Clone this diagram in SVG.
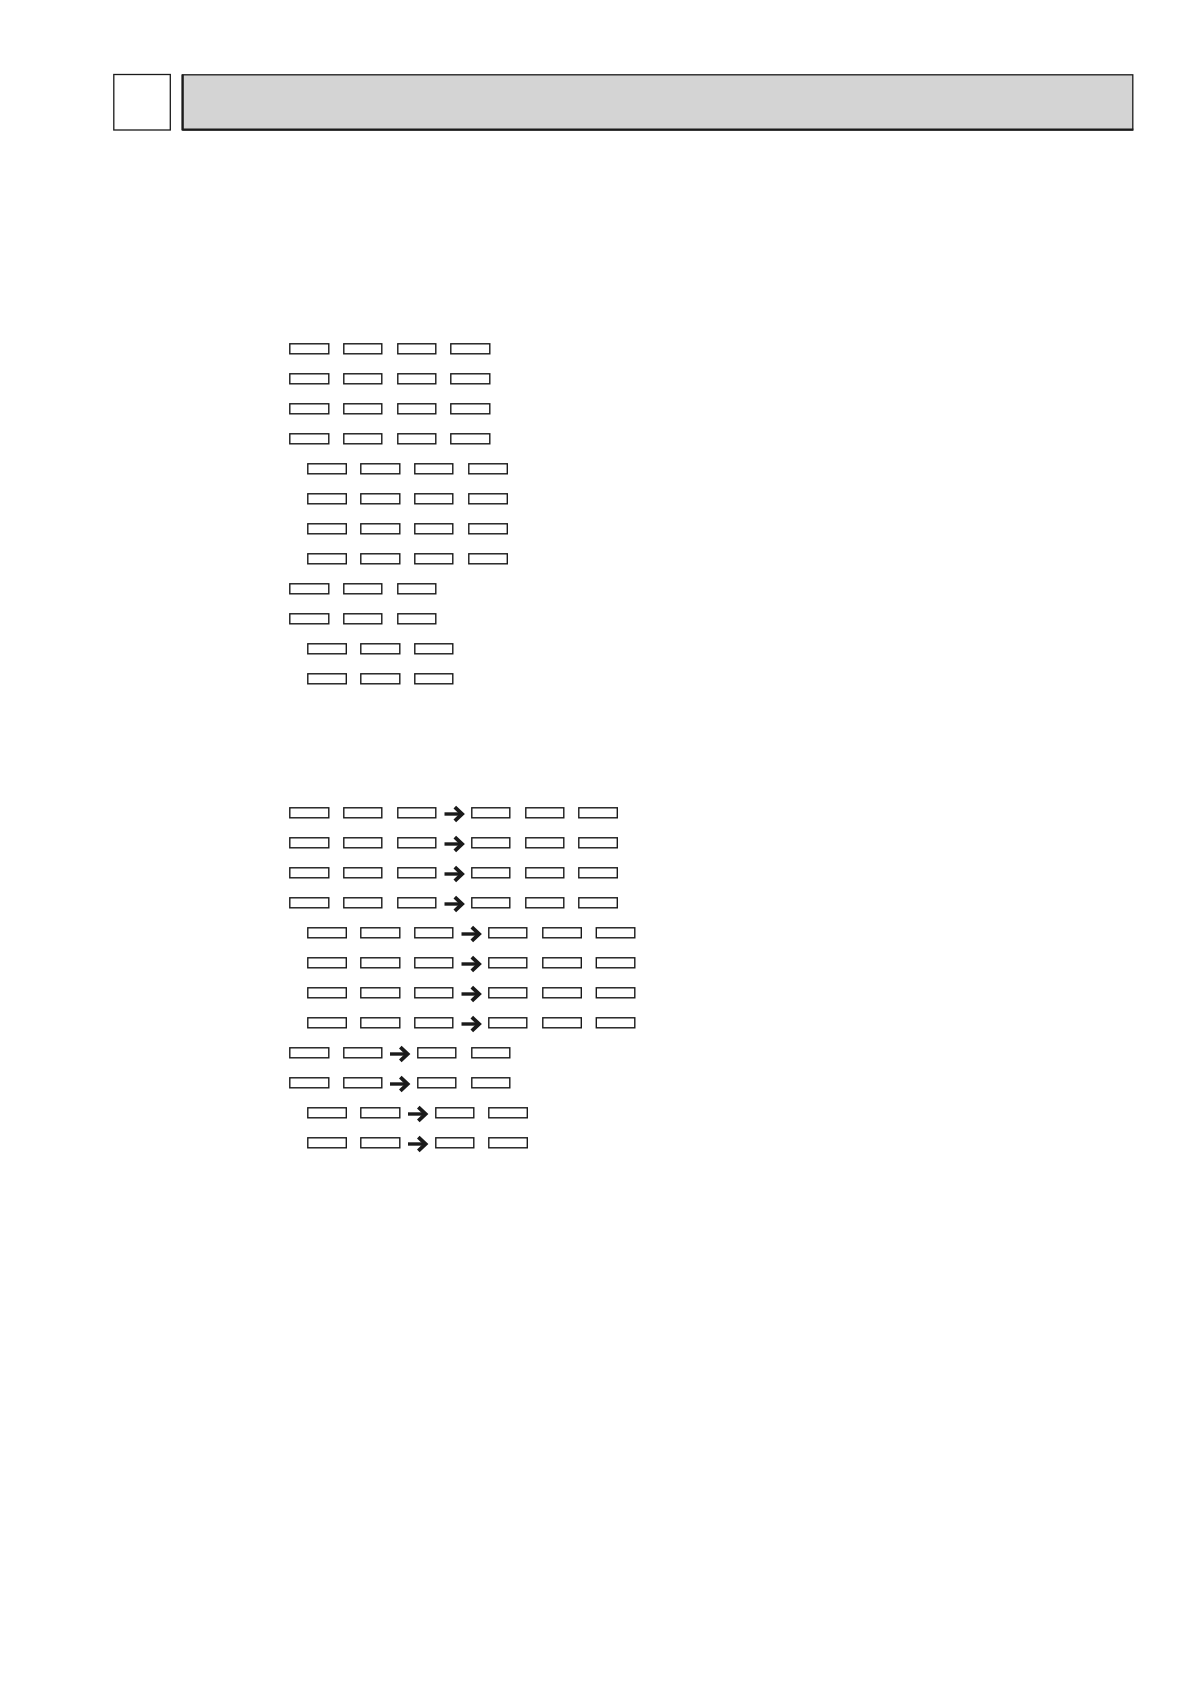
<svg xmlns="http://www.w3.org/2000/svg" width="1191" height="1684" viewBox="0 0 1191 1684">
<style>
.b{fill:#fff;stroke:#1a1a1a;stroke-width:1.4}
.sh{fill:none;stroke:#1a1a1a;stroke-width:3.4}
.hd{fill:none;stroke:#1a1a1a;stroke-width:3.8;stroke-linejoin:miter;stroke-linecap:butt}
</style>
<defs>
<g id="arr"><path class="sh" d="M0,0 H15.5"/><path class="hd" d="M10.3,-6.8 L17.6,0 L10.3,6.8"/></g>
</defs>
<rect width="1191" height="1684" fill="#fff"/>
<g id="header">
<rect id="numbox" x="113.8" y="74.5" width="56.5" height="55.5" fill="#fff" stroke="#1a1a1a" stroke-width="1.3"/>
<rect id="titlebar" x="182.3" y="74.8" width="950.5" height="55" fill="#d4d4d4" stroke="#1a1a1a" stroke-width="1.3"/>
<path d="M182.7,74.8 V130.3 M182.3,129.6 H1133.3" fill="none" stroke="#1a1a1a" stroke-width="2.2"/>
</g>
<g id="section1">
<g id="s1r1"><rect class="b" x="289.8" y="343.8" width="39" height="10"/><rect class="b" x="343.8" y="343.8" width="38" height="10"/><rect class="b" x="397.8" y="343.8" width="38" height="10"/><rect class="b" x="450.8" y="343.8" width="39" height="10"/></g>
<g id="s1r2"><rect class="b" x="289.8" y="373.8" width="39" height="10"/><rect class="b" x="343.8" y="373.8" width="38" height="10"/><rect class="b" x="397.8" y="373.8" width="38" height="10"/><rect class="b" x="450.8" y="373.8" width="39" height="10"/></g>
<g id="s1r3"><rect class="b" x="289.8" y="403.8" width="39" height="10"/><rect class="b" x="343.8" y="403.8" width="38" height="10"/><rect class="b" x="397.8" y="403.8" width="38" height="10"/><rect class="b" x="450.8" y="403.8" width="39" height="10"/></g>
<g id="s1r4"><rect class="b" x="289.8" y="433.8" width="39" height="10"/><rect class="b" x="343.8" y="433.8" width="38" height="10"/><rect class="b" x="397.8" y="433.8" width="38" height="10"/><rect class="b" x="450.8" y="433.8" width="39" height="10"/></g>
<g id="s1r5"><rect class="b" x="307.8" y="463.8" width="38.5" height="10"/><rect class="b" x="360.8" y="463.8" width="39" height="10"/><rect class="b" x="414.8" y="463.8" width="38" height="10"/><rect class="b" x="468.8" y="463.8" width="38.5" height="10"/></g>
<g id="s1r6"><rect class="b" x="307.8" y="493.8" width="38.5" height="10"/><rect class="b" x="360.8" y="493.8" width="39" height="10"/><rect class="b" x="414.8" y="493.8" width="38" height="10"/><rect class="b" x="468.8" y="493.8" width="38.5" height="10"/></g>
<g id="s1r7"><rect class="b" x="307.8" y="523.8" width="38.5" height="10"/><rect class="b" x="360.8" y="523.8" width="39" height="10"/><rect class="b" x="414.8" y="523.8" width="38" height="10"/><rect class="b" x="468.8" y="523.8" width="38.5" height="10"/></g>
<g id="s1r8"><rect class="b" x="307.8" y="553.8" width="38.5" height="10"/><rect class="b" x="360.8" y="553.8" width="39" height="10"/><rect class="b" x="414.8" y="553.8" width="38" height="10"/><rect class="b" x="468.8" y="553.8" width="38.5" height="10"/></g>
<g id="s1r9"><rect class="b" x="289.8" y="583.8" width="39" height="10"/><rect class="b" x="343.8" y="583.8" width="38" height="10"/><rect class="b" x="397.8" y="583.8" width="38" height="10"/></g>
<g id="s1r10"><rect class="b" x="289.8" y="613.8" width="39" height="10"/><rect class="b" x="343.8" y="613.8" width="38" height="10"/><rect class="b" x="397.8" y="613.8" width="38" height="10"/></g>
<g id="s1r11"><rect class="b" x="307.8" y="643.8" width="38.5" height="10"/><rect class="b" x="360.8" y="643.8" width="39" height="10"/><rect class="b" x="414.8" y="643.8" width="38" height="10"/></g>
<g id="s1r12"><rect class="b" x="307.8" y="673.8" width="38.5" height="10"/><rect class="b" x="360.8" y="673.8" width="39" height="10"/><rect class="b" x="414.8" y="673.8" width="38" height="10"/></g>
</g>
<g id="section2">
<g id="s2r1"><rect class="b" x="289.8" y="807.8" width="39" height="10"/><rect class="b" x="343.8" y="807.8" width="38" height="10"/><rect class="b" x="397.8" y="807.8" width="38" height="10"/><rect class="b" x="471.8" y="807.8" width="38" height="10"/><rect class="b" x="525.8" y="807.8" width="38" height="10"/><rect class="b" x="578.8" y="807.8" width="38.5" height="10"/></g>
<g id="s2r2"><rect class="b" x="289.8" y="837.8" width="39" height="10"/><rect class="b" x="343.8" y="837.8" width="38" height="10"/><rect class="b" x="397.8" y="837.8" width="38" height="10"/><rect class="b" x="471.8" y="837.8" width="38" height="10"/><rect class="b" x="525.8" y="837.8" width="38" height="10"/><rect class="b" x="578.8" y="837.8" width="38.5" height="10"/></g>
<g id="s2r3"><rect class="b" x="289.8" y="867.8" width="39" height="10"/><rect class="b" x="343.8" y="867.8" width="38" height="10"/><rect class="b" x="397.8" y="867.8" width="38" height="10"/><rect class="b" x="471.8" y="867.8" width="38" height="10"/><rect class="b" x="525.8" y="867.8" width="38" height="10"/><rect class="b" x="578.8" y="867.8" width="38.5" height="10"/></g>
<g id="s2r4"><rect class="b" x="289.8" y="897.8" width="39" height="10"/><rect class="b" x="343.8" y="897.8" width="38" height="10"/><rect class="b" x="397.8" y="897.8" width="38" height="10"/><rect class="b" x="471.8" y="897.8" width="38" height="10"/><rect class="b" x="525.8" y="897.8" width="38" height="10"/><rect class="b" x="578.8" y="897.8" width="38.5" height="10"/></g>
<g id="s2r5"><rect class="b" x="307.8" y="927.8" width="38.5" height="10"/><rect class="b" x="360.8" y="927.8" width="39" height="10"/><rect class="b" x="414.8" y="927.8" width="38" height="10"/><rect class="b" x="488.8" y="927.8" width="38" height="10"/><rect class="b" x="542.8" y="927.8" width="38.5" height="10"/><rect class="b" x="596.3" y="927.8" width="38.5" height="10"/></g>
<g id="s2r6"><rect class="b" x="307.8" y="957.8" width="38.5" height="10"/><rect class="b" x="360.8" y="957.8" width="39" height="10"/><rect class="b" x="414.8" y="957.8" width="38" height="10"/><rect class="b" x="488.8" y="957.8" width="38" height="10"/><rect class="b" x="542.8" y="957.8" width="38.5" height="10"/><rect class="b" x="596.3" y="957.8" width="38.5" height="10"/></g>
<g id="s2r7"><rect class="b" x="307.8" y="987.8" width="38.5" height="10"/><rect class="b" x="360.8" y="987.8" width="39" height="10"/><rect class="b" x="414.8" y="987.8" width="38" height="10"/><rect class="b" x="488.8" y="987.8" width="38" height="10"/><rect class="b" x="542.8" y="987.8" width="38.5" height="10"/><rect class="b" x="596.3" y="987.8" width="38.5" height="10"/></g>
<g id="s2r8"><rect class="b" x="307.8" y="1017.8" width="38.5" height="10"/><rect class="b" x="360.8" y="1017.8" width="39" height="10"/><rect class="b" x="414.8" y="1017.8" width="38" height="10"/><rect class="b" x="488.8" y="1017.8" width="38" height="10"/><rect class="b" x="542.8" y="1017.8" width="38.5" height="10"/><rect class="b" x="596.3" y="1017.8" width="38.5" height="10"/></g>
<g id="s2r9"><rect class="b" x="289.8" y="1047.8" width="39" height="10"/><rect class="b" x="343.8" y="1047.8" width="38" height="10"/><rect class="b" x="417.8" y="1047.8" width="38" height="10"/><rect class="b" x="471.8" y="1047.8" width="38" height="10"/></g>
<g id="s2r10"><rect class="b" x="289.8" y="1077.8" width="39" height="10"/><rect class="b" x="343.8" y="1077.8" width="38" height="10"/><rect class="b" x="417.8" y="1077.8" width="38" height="10"/><rect class="b" x="471.8" y="1077.8" width="38" height="10"/></g>
<g id="s2r11"><rect class="b" x="307.8" y="1107.8" width="38.5" height="10"/><rect class="b" x="360.8" y="1107.8" width="39" height="10"/><rect class="b" x="435.8" y="1107.8" width="38" height="10"/><rect class="b" x="488.8" y="1107.8" width="38.5" height="10"/></g>
<g id="s2r12"><rect class="b" x="307.8" y="1137.8" width="38.5" height="10"/><rect class="b" x="360.8" y="1137.8" width="39" height="10"/><rect class="b" x="435.8" y="1137.8" width="38" height="10"/><rect class="b" x="488.8" y="1137.8" width="38.5" height="10"/></g>
</g>
<g id="connectors">
<use href="#arr" x="444.5" y="814"/>
<use href="#arr" x="444.5" y="844"/>
<use href="#arr" x="444.5" y="874"/>
<use href="#arr" x="444.5" y="904"/>
<use href="#arr" x="461.5" y="934"/>
<use href="#arr" x="461.5" y="964"/>
<use href="#arr" x="461.5" y="994"/>
<use href="#arr" x="461.5" y="1024"/>
<use href="#arr" x="390" y="1054"/>
<use href="#arr" x="390" y="1084"/>
<use href="#arr" x="408" y="1114"/>
<use href="#arr" x="408" y="1144"/>
</g>
</svg>
